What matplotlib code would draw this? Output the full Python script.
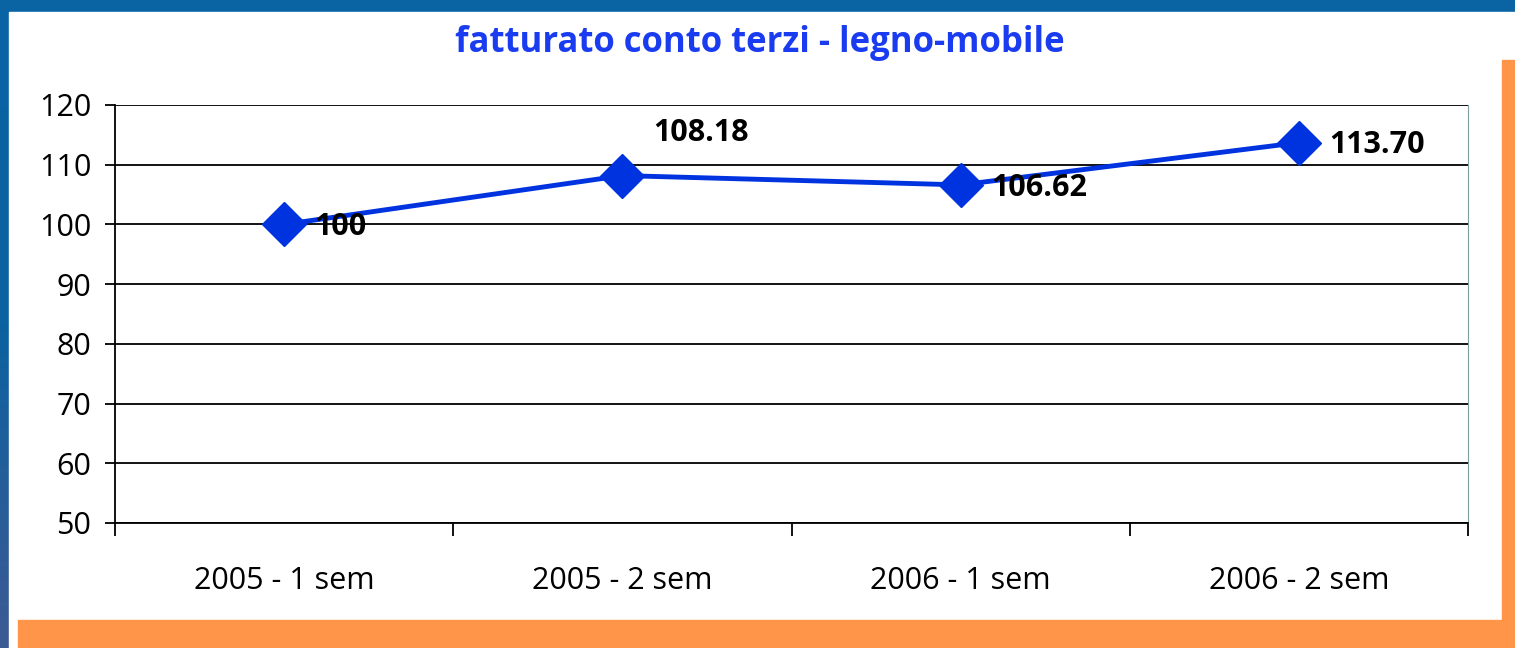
import numpy as np
import matplotlib.pyplot as plt
from matplotlib.patches import Rectangle
from matplotlib.colors import LinearSegmentedColormap

plt.rcParams['font.family'] = ['Open Sans', 'DejaVu Sans']

categories = ['2005 - 1 sem', '2005 - 2 sem', '2006 - 1 sem', '2006 - 2 sem']
values = [100, 108.18, 106.62, 113.70]
labels = ['100', '108.18', '106.62', '113.70']
label_offsets = [(22, -2), (22, 31), (22, -2), (22, -2)]

W, H = 1515, 648
fig = plt.figure(figsize=(W / 100, H / 100), dpi=100)

# blue background with slight gradient
bg = fig.add_axes([0, 0, 1, 1], zorder=-10)
grad = np.linspace(0, 1, 256).reshape(-1, 1)
cmap = LinearSegmentedColormap.from_list('bg', ['#0a64a3', '#0b62a0', '#3d5a94'])
bg.imshow(grad, aspect='auto', cmap=cmap, extent=[0, 1, 0, 1], origin='upper')
bg.set_xlim(0, 1)
bg.set_ylim(0, 1)
bg.axis('off')

# white panel and orange strips
fig.patches.append(Rectangle((9 / W, 0), (W - 9) / W, (H - 12) / H,
                             transform=fig.transFigure, color='white', zorder=-5))
fig.patches.append(Rectangle((18 / W, 0), (W - 18) / W, 28 / H,
                             transform=fig.transFigure, color='#ff9548', zorder=-4))
fig.patches.append(Rectangle((1502 / W, 0), 13 / W, (H - 60) / H,
                             transform=fig.transFigure, color='#ff9548', zorder=-4))

ax = fig.add_axes([115 / W, (H - 523) / H, (1468 - 115) / W, (523 - 105) / H])
ax.set_facecolor('none')
x = np.arange(len(categories))
ax.plot(x, values, color='#0033e0', lw=3.5, marker='D', markersize=22, zorder=5)
for xi, v, lab, off in zip(x, values, labels, label_offsets):
    ax.annotate(lab, (xi, v), xytext=off, textcoords='offset points',
                ha='left', va='center', fontsize=22, fontweight='bold',
                color='black', zorder=6)

ax.set_xlim(-0.5, 3.5)
ax.set_ylim(50, 120)
ax.set_yticks(range(50, 121, 10))
ax.yaxis.grid(True, color='black', lw=1.3)
ax.set_axisbelow(True)
ax.set_xticks(x)
ax.set_xticklabels(categories)
ax.set_xticks(np.arange(-0.5, 4, 1), minor=True)
ax.tick_params(axis='x', which='major', length=0, pad=31, labelsize=22)
ax.tick_params(axis='x', which='minor', length=9, width=1.3, direction='out')
ax.tick_params(axis='y', length=7, width=1.3, direction='out', labelsize=22, pad=10)
ax.spines['top'].set_visible(False)
ax.spines['right'].set_color('#7f9f9f')
for s in ['left', 'bottom']:
    ax.spines[s].set_linewidth(1.3)

fig.text(760 / W, 1 - 43 / H, 'fatturato conto terzi - legno-mobile',
         ha='center', va='center', fontsize=25, fontweight='bold', color='#1a3cf0')

fig.savefig('out.png', dpi=100)
